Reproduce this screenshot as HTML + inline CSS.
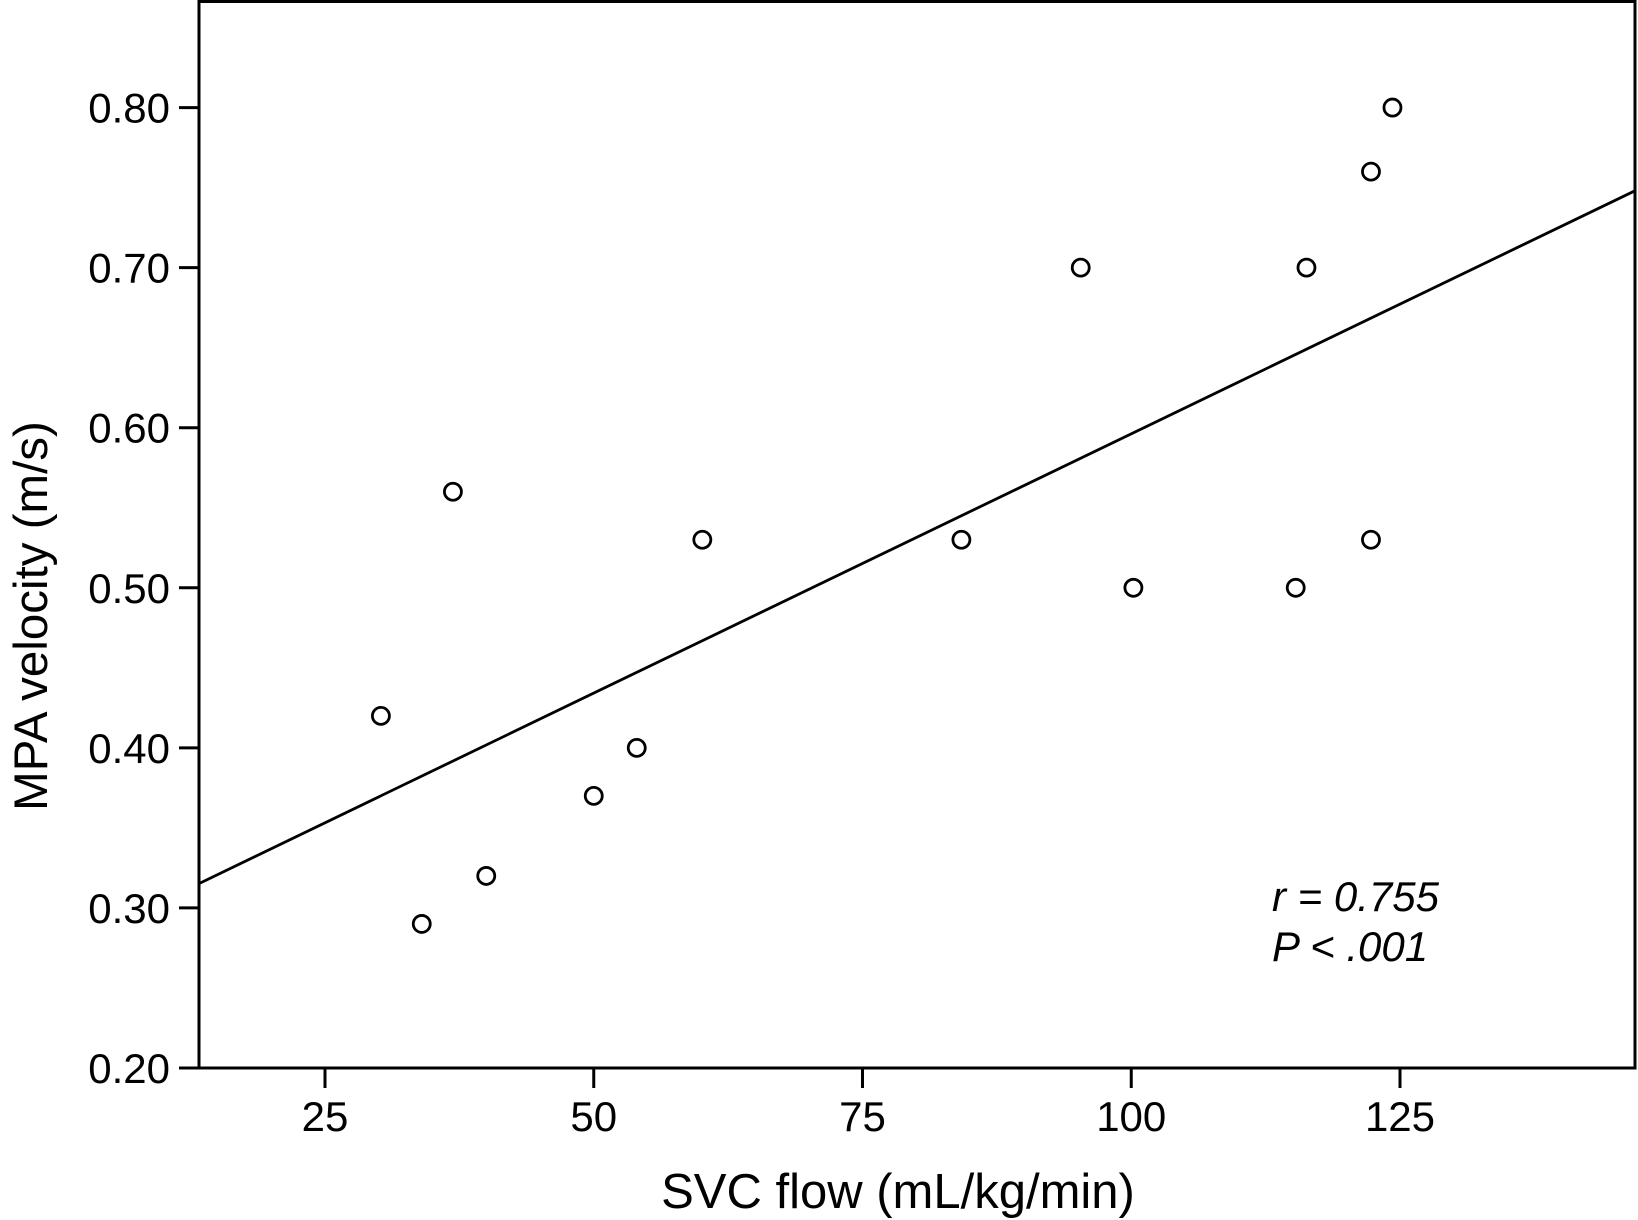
<!DOCTYPE html>
<html><head><meta charset="utf-8"><style>
body{margin:0;background:#fff}
svg{display:block;font-family:"Liberation Sans",sans-serif}
</style></head><body>
<svg id="chart" width="1638" height="1220" viewBox="0 0 1638 1220">
<rect x="199" y="1.5" width="1436" height="1066.5" fill="none" stroke="#000" stroke-width="3"/>
<g id="ticks"></g>
<g id="marks"></g>
<text x="898" y="1208" font-size="49" text-anchor="middle">SVC flow (mL/kg/min)</text>
<text transform="translate(47,616) rotate(-90)" font-size="47.5" text-anchor="middle">MPA velocity (m/s)</text>
<text x="1272" y="911" font-size="42" font-style="italic">r = 0.755</text>
<text x="1272" y="961" font-size="42" font-style="italic">P &lt; .001</text>
</svg>
<script>
const xVals=[30.2,34,36.9,40,50,54,60.1,84.2,95.3,100.2,115.3,116.3,122.3,122.3,124.3];
const yVals=[0.42,0.29,0.56,0.32,0.37,0.40,0.53,0.53,0.70,0.50,0.50,0.70,0.76,0.53,0.80];
const xTicks=[25,50,75,100,125];
const yTicks=[0.20,0.30,0.40,0.50,0.60,0.70,0.80];
const fitSlope=0.00324, fitIntercept=0.2722;
const xMin=13.3,xMax=146.9;
const NS="http://www.w3.org/2000/svg";
const sx=v=>325+(v-25)*10.75;
const sy=v=>1068-(v-0.2)*1600.7;
function mk(tag,attrs,parent){const e=document.createElementNS(NS,tag);for(const k in attrs)e.setAttribute(k,attrs[k]);parent.appendChild(e);return e;}
const T=document.getElementById('ticks'),M=document.getElementById('marks');
xTicks.forEach(t=>{
 const l=mk('line',{x1:sx(t),x2:sx(t),y1:1068,y2:1088,stroke:'#000','stroke-width':3},T);
 
 
 const tx=mk('text',{x:sx(t),y:1131,'font-size':42,'text-anchor':'middle'},T);tx.textContent=t;
 
 
});
yTicks.forEach(t=>{
 const l=mk('line',{x1:179,x2:199,y1:sy(t),y2:sy(t),stroke:'#000','stroke-width':3},T);
 
 
 const tx=mk('text',{x:170,y:sy(t)+15,'font-size':42,'text-anchor':'end'},T);tx.textContent=t.toFixed(2);
 
 
});
const fl=mk('line',{x1:sx(xMin),y1:sy(fitIntercept+fitSlope*xMin),x2:sx(xMax),y2:sy(fitIntercept+fitSlope*xMax),stroke:'#000','stroke-width':2.8},M);


xVals.forEach((x,i)=>{
 const c=mk('circle',{cx:sx(x),cy:sy(yVals[i]),r:8.5,fill:'#fff',stroke:'#000','stroke-width':2.8},M);
 
 
});
</script>
</body></html>
